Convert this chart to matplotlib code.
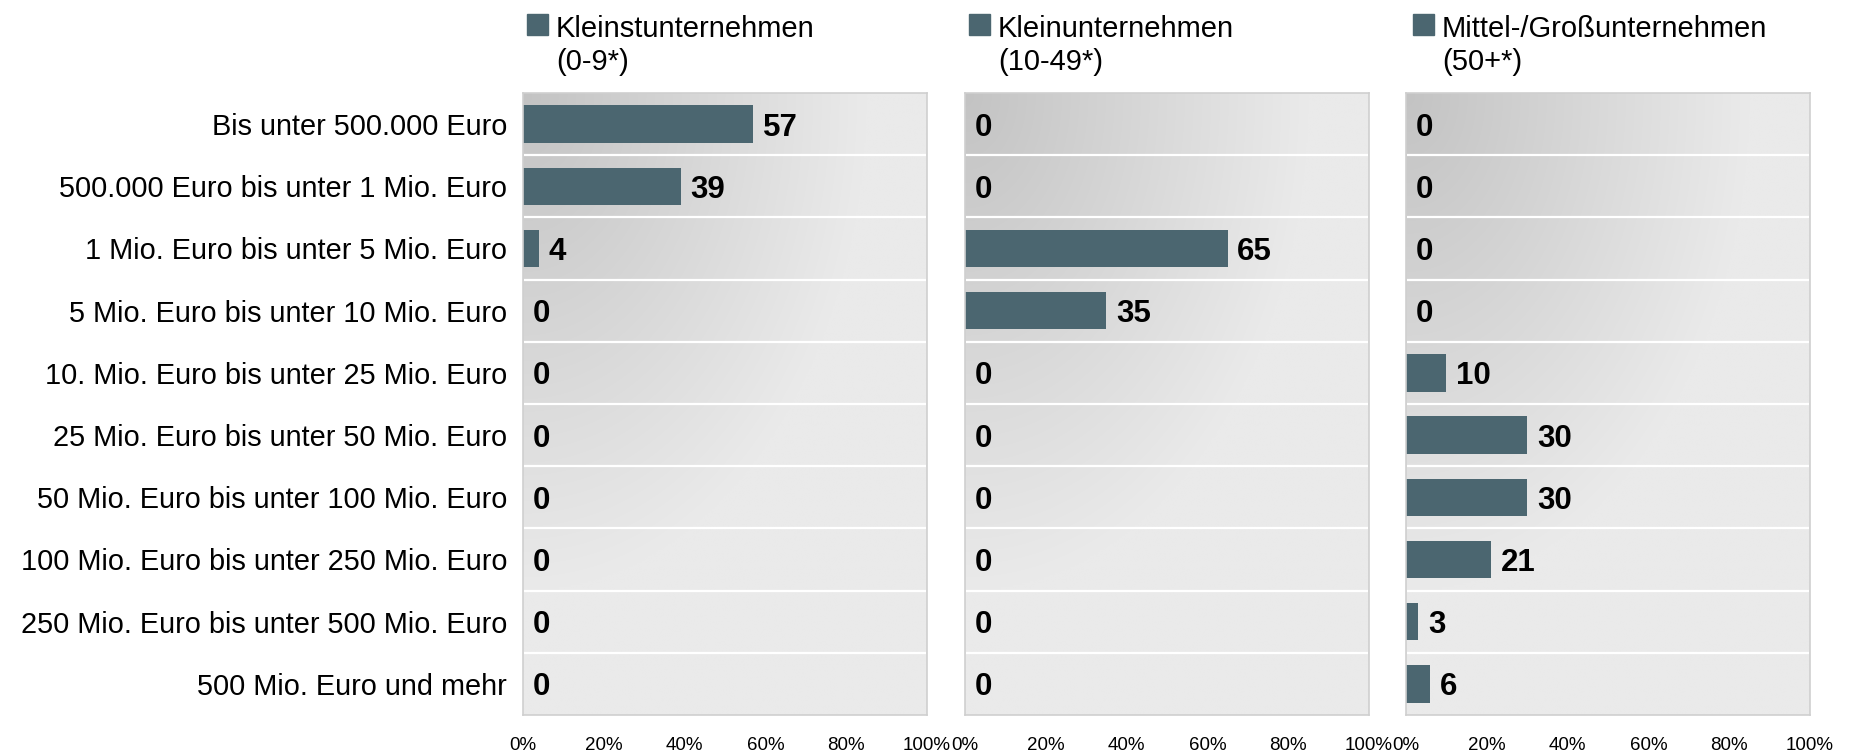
import numpy as np
import matplotlib.pyplot as plt
from matplotlib.patches import Rectangle

plt.rcParams['font.family'] = ['Liberation Sans', 'DejaVu Sans']

categories = [
    'Bis unter 500.000 Euro',
    '500.000 Euro bis unter 1 Mio. Euro',
    '1 Mio. Euro bis unter 5 Mio. Euro',
    '5 Mio. Euro bis unter 10 Mio. Euro',
    '10. Mio. Euro bis unter 25 Mio. Euro',
    '25 Mio. Euro bis unter 50 Mio. Euro',
    '50 Mio. Euro bis unter 100 Mio. Euro',
    '100 Mio. Euro bis unter 250 Mio. Euro',
    '250 Mio. Euro bis unter 500 Mio. Euro',
    '500 Mio. Euro und mehr',
]
kleinst = [57, 39, 4, 0, 0, 0, 0, 0, 0, 0]
klein = [0, 0, 65, 35, 0, 0, 0, 0, 0, 0]
mittel_gross = [0, 0, 0, 0, 10, 30, 30, 21, 3, 6]

series = [kleinst, klein, mittel_gross]
titles = [('Kleinstunternehmen', '(0-9*)'),
          ('Kleinunternehmen', '(10-49*)'),
          ('Mittel-/Großunternehmen', '(50+*)')]
tick_vals = [0, 20, 40, 60, 80, 100]
tick_labels = ['0%', '20%', '40%', '60%', '80%', '100%']

bar_color = '#4b6670'
W, H = 1850, 753
fig = plt.figure(figsize=(W / 100, H / 100), dpi=100)

# background gradient: dark at top-left, light towards right and bottom
gx, gy = np.meshgrid(np.linspace(0, 1, 300), np.linspace(0, 1, 300))
d = np.sqrt((gx / 0.85) ** 2 + (gy / 0.8) ** 2)
d = np.clip(d, 0, 1)
grad = 195 + (234 - 195) * d
grad = np.stack([grad / 255.0] * 3, axis=-1)

lefts = [523, 965, 1406]
ax_w = 404
top_px, bot_px = 93, 715
n = len(categories)
y = np.arange(n)

for i, (vals, (t1, t2), lx) in enumerate(zip(series, titles, lefts)):
    ax = fig.add_axes([lx / W, 1 - bot_px / H, ax_w / W, (bot_px - top_px) / H])
    ax.imshow(grad, extent=(0, 1, 0, 1), transform=ax.transAxes,
              aspect='auto', zorder=0, interpolation='bilinear')
    ax.barh(y, vals, height=0.6, color=bar_color, zorder=2)
    for k in range(1, n):
        ax.axhline(k - 0.5, xmin=0.005, xmax=0.995, color='white', lw=1.6, zorder=1)
    for yy, v in zip(y, vals):
        ax.text(v + 2.4, yy, str(v), ha='left', va='center_baseline',
                fontsize=22.5, fontweight='bold', color='black', zorder=3)
    ax.set_xlim(0, 100)
    ax.set_ylim(n - 0.5, -0.5)
    ax.set_xticks(tick_vals)
    ax.set_xticklabels(tick_labels, fontsize=13.5)
    ax.tick_params(axis='x', length=0, pad=16)
    if i == 0:
        ax.set_yticks(y)
        ax.set_yticklabels(categories, fontsize=20.8)
        ax.tick_params(axis='y', length=0, pad=11.5)
    else:
        ax.set_yticks([])
    for sp in ax.spines.values():
        sp.set_color('#cfcfcf')
        sp.set_linewidth(1.2)

    # header legend
    sq_x = lx + 4 if i < 2 else lx + 7
    fig.patches.append(Rectangle((sq_x / W, 1 - 35 / H), 21 / W, 21 / H,
                                 transform=fig.transFigure, color=bar_color))
    fig.text((sq_x + 29) / W, 1 - 37 / H, t1, fontsize=21, va='baseline', ha='left')
    fig.text((sq_x + 29) / W, 1 - 70 / H, t2, fontsize=21, va='baseline', ha='left')

fig.savefig('out.png', dpi=100)
